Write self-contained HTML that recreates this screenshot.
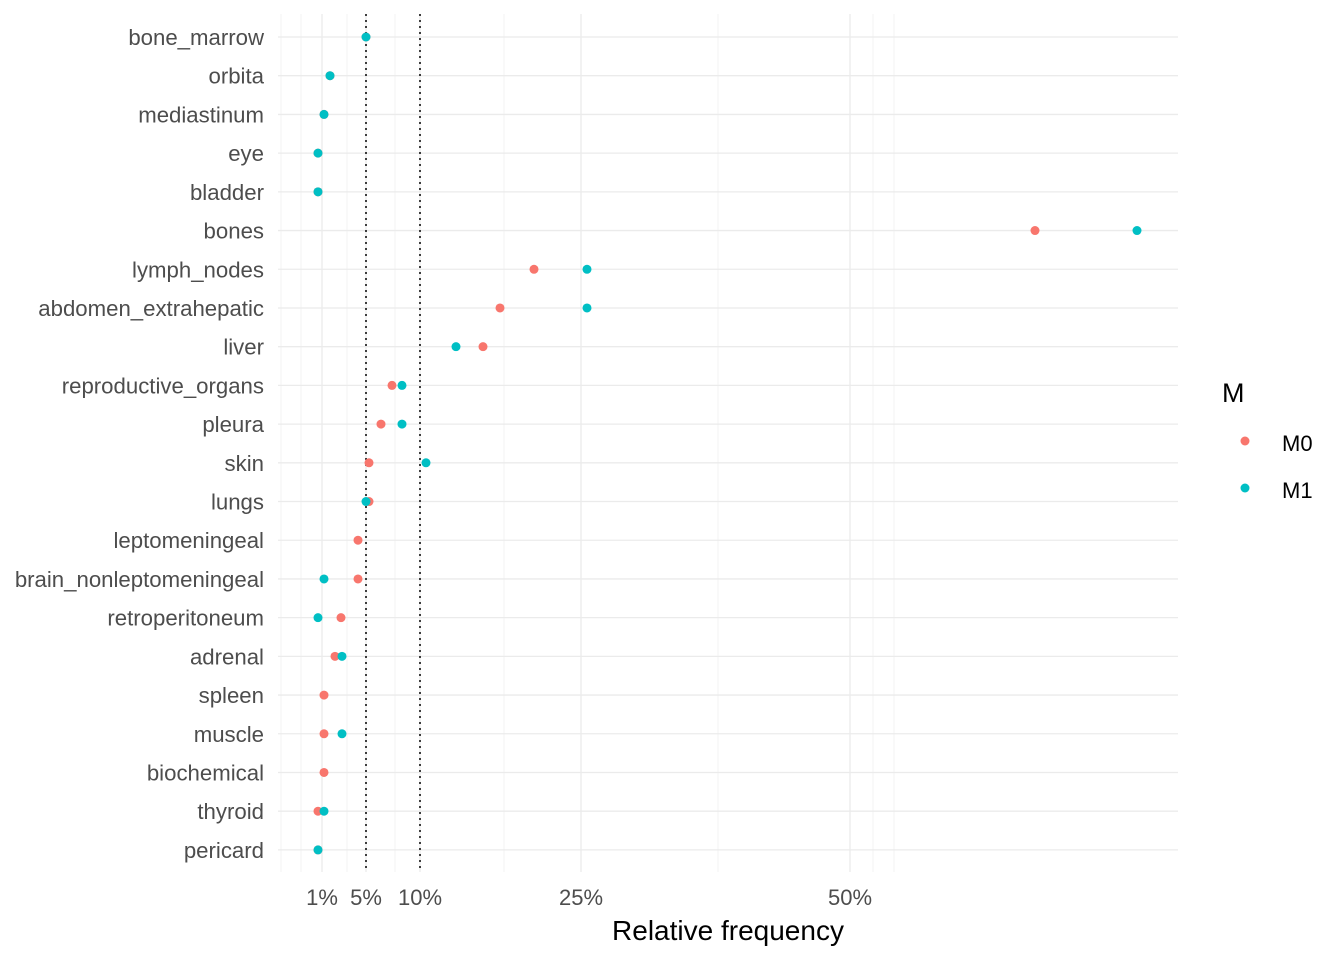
<!DOCTYPE html>
<html><head><style>body{margin:0;background:#fff}</style></head><body>
<svg width="1344" height="960" xmlns="http://www.w3.org/2000/svg" font-family="Liberation Sans, sans-serif">
<rect width="1344" height="960" fill="#fff"/>
<g stroke="#ebebeb" stroke-width="0.6">
<line x1="281" y1="14" x2="281" y2="872"/><line x1="301" y1="14" x2="301" y2="872"/><line x1="347" y1="14" x2="347" y2="872"/><line x1="395" y1="14" x2="395" y2="872"/><line x1="504" y1="14" x2="504" y2="872"/><line x1="718" y1="14" x2="718" y2="872"/><line x1="873" y1="14" x2="873" y2="872"/><line x1="894" y1="14" x2="894" y2="872"/>
</g>
<g stroke="#ebebeb" stroke-width="1.3">
<line x1="322" y1="14" x2="322" y2="872"/><line x1="366" y1="14" x2="366" y2="872"/><line x1="420" y1="14" x2="420" y2="872"/><line x1="581" y1="14" x2="581" y2="872"/><line x1="850" y1="14" x2="850" y2="872"/>
</g>
<g id="rows" stroke="#ebebeb" stroke-width="1.3"></g>
<line x1="366" y1="14" x2="366" y2="872" stroke="#000" stroke-width="1.5" stroke-dasharray="2,4"/>
<line x1="420" y1="14" x2="420" y2="872" stroke="#000" stroke-width="1.5" stroke-dasharray="2,4"/>
<g id="pts"></g>
<g id="labs" font-size="22.2" fill="#4d4d4d" text-anchor="end"></g>
<g font-size="22" fill="#4d4d4d" text-anchor="middle">
<text x="322" y="905">1%</text><text x="366" y="905">5%</text><text x="420" y="905">10%</text><text x="581" y="905">25%</text><text x="850" y="905">50%</text>
</g>
<text x="728" y="940" font-size="28" text-anchor="middle" fill="#000">Relative frequency</text>
<text x="1222" y="402" font-size="27" fill="#000">M</text>
<circle cx="1245" cy="441" r="4.5" fill="#F8766D"/><text x="1282" y="451" font-size="22" fill="#000">M0</text>
<circle cx="1245" cy="488" r="4.5" fill="#00BFC4"/><text x="1282" y="498" font-size="22" fill="#000">M1</text>
</svg>
<script>
var names=["bone_marrow","orbita","mediastinum","eye","bladder","bones","lymph_nodes","abdomen_extrahepatic","liver","reproductive_organs","pleura","skin","lungs","leptomeningeal","brain_nonleptomeningeal","retroperitoneum","adrenal","spleen","muscle","biochemical","thyroid","pericard"];
var m0=[366,330,324,318,318,1035,534,500,483,392,381,369,369,358,358,341,335,324,324,324,318,318];
var m1=[366,330,324,318,318,1137,587,587,456,402,402,426,366,null,324,318,342,null,342,null,324,318];
var ns="http://www.w3.org/2000/svg",r=document.getElementById("rows"),p=document.getElementById("pts"),l=document.getElementById("labs");
names.forEach(function(n,i){var y=37+i*38.71;
var ln=document.createElementNS(ns,"line");ln.setAttribute("x1",278);ln.setAttribute("x2",1178);ln.setAttribute("y1",y);ln.setAttribute("y2",y);r.appendChild(ln);
var t=document.createElementNS(ns,"text");t.setAttribute("x",264);t.setAttribute("y",y+8);t.textContent=n;l.appendChild(t);
[[m0[i],"#F8766D"],[m1[i],"#00BFC4"]].forEach(function(a){if(a[0]==null)return;var c=document.createElementNS(ns,"circle");c.setAttribute("cx",a[0]);c.setAttribute("cy",y);c.setAttribute("r",4.5);c.setAttribute("fill",a[1]);p.appendChild(c);});
});
</script>
</body></html>
